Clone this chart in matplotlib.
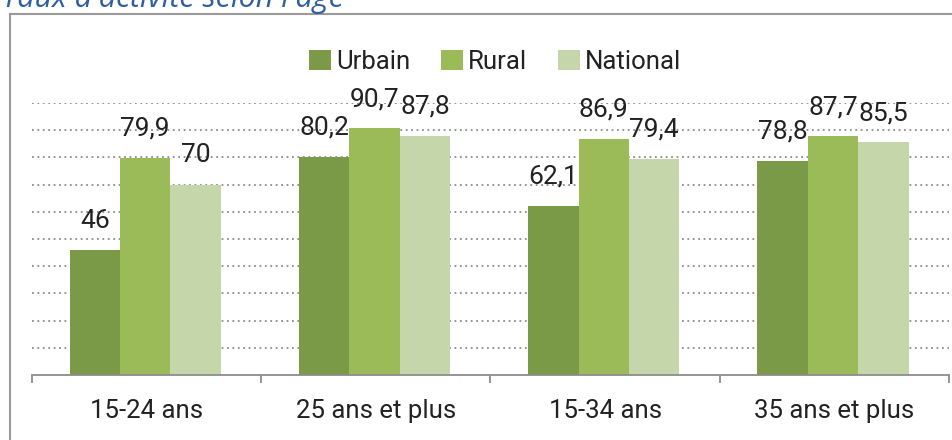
import numpy as np
import matplotlib.pyplot as plt
from matplotlib.patches import Patch
from matplotlib.lines import Line2D

categories = ["15-24 ans", "25 ans et plus", "15-34 ans", "35 ans et plus"]
urbain = [46, 80.2, 62.1, 78.8]
rural = [79.9, 90.7, 86.9, 87.7]
national = [70, 87.8, 79.4, 85.5]
series_names = ["Urbain", "Rural", "National"]
colors = ["#7b9a48", "#9bbb59", "#c6d6ab"]
title = "Taux d'activité selon l'âge"


def fmt(v):
    if float(v).is_integer():
        return str(int(v))
    return f"{v:.1f}".replace(".", ",")


plt.rcParams['font.family'] = ['Roboto', 'DejaVu Sans']

fig = plt.figure(figsize=(9.53, 4.40), dpi=100)
ax = fig.add_axes([32 / 953, 1 - 375 / 440, (949 - 32) / 953, (375 - 103) / 440])

x = np.arange(len(categories))
width = 0.22
for i, (vals, c) in enumerate(zip([urbain, rural, national], colors)):
    pos = x + (i - 1) * width - 0.006
    ax.bar(pos, vals, width=width, color=c, zorder=2)
    for p, v in zip(pos, vals):
        ax.annotate(fmt(v), (p, v), xytext=(0, 16), textcoords="offset points",
                    ha="center", va="baseline", fontsize=19, color="#222222",
                    annotation_clip=False, zorder=4)

ax.set_xlim(-0.5, len(categories) - 0.5)
ax.set_ylim(0, 100)
ax.set_yticks(np.arange(10, 101, 10))
ax.yaxis.grid(True, linestyle=(0, (1, 2)), color="#8c8c8c", linewidth=1.3, zorder=0)
ax.set_axisbelow(True)
ax.tick_params(axis="y", left=False, labelleft=False)

for s in ["top", "right", "left"]:
    ax.spines[s].set_visible(False)
ax.spines["bottom"].set_color("#8c8c8c")
ax.spines["bottom"].set_linewidth(1.3)

ax.set_xticks(x)
ax.set_xticklabels(categories, fontsize=18.5, color="#222222")
ax.tick_params(axis="x", which="major", length=0, pad=17)
ax.set_xticks(np.arange(-0.5, len(categories), 1), minor=True)
ax.tick_params(axis="x", which="minor", length=6, width=1.3, color="#8c8c8c", direction="out")

handles = [Patch(facecolor=c, edgecolor="none") for c in colors]
fig.legend(handles, series_names, loc="center", bbox_to_anchor=(495 / 953, 1 - 62 / 440),
           ncol=3, frameon=False, fontsize=18.5, handlelength=0.85, handleheight=0.8,
           handletextpad=0.2, columnspacing=1.2, labelcolor="#222222")

# outer frame
fig.add_artist(Line2D([10 / 953, 10 / 953], [0, 1 - 14 / 440], transform=fig.transFigure,
                      color="#9a9a9a", linewidth=1.5))
fig.add_artist(Line2D([10 / 953, 1], [1 - 14 / 440, 1 - 14 / 440], transform=fig.transFigure,
                      color="#9a9a9a", linewidth=1.5))

# title, cut off by the top edge
fig.text(2 / 953, 1 - 7 / 440, title, ha="left", va="baseline", fontsize=22,
         style="italic", color="#2f5f9e", family=['Open Sans', 'DejaVu Sans'])

fig.savefig("out.png", dpi=100)
